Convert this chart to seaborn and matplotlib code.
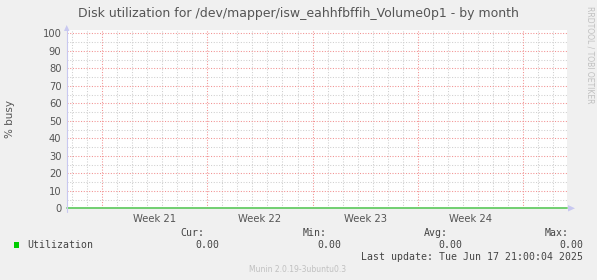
import matplotlib
matplotlib.use("Agg")
import matplotlib.pyplot as plt
import seaborn as sns
import pandas as pd

# ---- data ----
times = ["2025-05-16 15:30", "2025-05-19 00:00", "2025-05-22 00:00", "2025-05-25 00:00",
         "2025-05-28 00:00", "2025-05-31 00:00", "2025-06-03 00:00", "2025-06-06 00:00",
         "2025-06-09 00:00", "2025-06-12 00:00", "2025-06-15 00:00", "2025-06-18 22:50"]
utilization = [0, 0, 0, 0, 0, 0, 0, 0, 0, 0, 0, 0]
week_labels = ["Week 21", "Week 22", "Week 23", "Week 24"]
week_starts = ["2025-05-19", "2025-05-26", "2025-06-02", "2025-06-09", "2025-06-16"]
y_ticks = [0, 10, 20, 30, 40, 50, 60, 70, 80, 90, 100]
title = "Disk utilization for /dev/mapper/isw_eahhfbffih_Volume0p1 - by month"
stats_names = ["Cur:", "Min:", "Avg:", "Max:"]
stats_values = ["0.00", "0.00", "0.00", "0.00"]
series_name = "Utilization"
last_update = "Last update: Tue Jun 17 21:00:04 2025"
footer = "Munin 2.0.19-3ubuntu0.3"

df = pd.DataFrame({"time": pd.to_datetime(times), "util": utilization})

sns.set_theme(style="white")
plt.rcParams["font.family"] = ["DejaVu Sans"]

W, H = 597, 280
fig = plt.figure(figsize=(W / 100, H / 100), dpi=100)
fig.patch.set_facecolor("#f0f0f0")

def fx(px):
    return px / W

def fy(py):
    return 1 - py / H

left, right, top, bottom = 67, 567, 30, 208.3
ax = fig.add_axes([fx(left), fy(bottom), fx(right - left), (bottom - top) / H])
ax.set_facecolor("white")

xmin = pd.Timestamp("2025-05-16 15:30")
xmax = pd.Timestamp("2025-06-18 22:50")
ymax = 100 * (bottom - top) / (bottom - 33.3)

# grid lines
days = pd.date_range("2025-05-17", "2025-06-18", freq="D")
major = pd.to_datetime(week_starts)
for d in days:
    if d.weekday() == 0:
        continue
    ax.axvline(d, color="#cfcfcf", lw=0.75, ls=(0, (1, 1.6)), zorder=1)
for v in range(5, 100, 10):
    ax.axhline(v, color="#cfcfcf", lw=0.75, ls=(0, (1, 1.6)), zorder=1)
for d in major:
    ax.axvline(d, color="#f29090", lw=0.75, ls=(0, (1, 1.6)), zorder=2)
for v in y_ticks[1:]:
    ax.axhline(v, color="#f29090", lw=0.75, ls=(0, (1, 1.6)), zorder=2)

sns.lineplot(data=df, x="time", y="util", ax=ax, color="#66cc66", lw=1.3, zorder=5,
             legend=False, clip_on=False)

ax.set_xlim(xmin, xmax)
ax.set_ylim(0, ymax)
for s in ax.spines.values():
    s.set_visible(False)

ax.set_yticks(y_ticks)
ax.set_yticklabels([str(v) for v in y_ticks], fontsize=7.2, color="#555555")
mids = [m + pd.Timedelta(hours=84) for m in major[:-1]]
ax.set_xticks(mids)
ax.set_xticklabels(week_labels, fontsize=7.2, color="#555555")
ax.tick_params(axis="both", length=0, pad=4)
ax.set_xlabel("")
ax.set_ylabel("% busy", fontsize=7.5, color="#555555", labelpad=20)

# axis lines with arrows
fig.add_artist(plt.Line2D([fx(66.7), fx(66.7)], [fy(212), fy(30)], color="#c8c8f0", lw=0.8))
fig.add_artist(plt.Polygon([[fx(64), fy(31)], [fx(69.5), fy(31)], [fx(66.7), fy(25)]],
                           closed=True, color="#c8c8f0", lw=0))
fig.add_artist(plt.Polygon([[fx(568), fy(205)], [fx(568), fy(211.5)], [fx(575), fy(208.3)]],
                           closed=True, color="#c8c8f0", lw=0))

# title
fig.text(fx(298), fy(13), title, ha="center", va="center", fontsize=9, color="#555555")
# side credit
fig.text(fx(590), fy(55), "RRDTOOL / TOBI OETIKER", rotation=270, ha="center", va="center",
         fontsize=5.5, color="#c0c0c0")

# legend row
mono = "DejaVu Sans Mono"
fig.add_artist(plt.Rectangle((fx(14), fy(247.5)), 5 / W, 5.5 / H, color="#00cc00", lw=0))
fig.text(fx(27), fy(244.5), series_name, ha="left", va="center", fontsize=7.1, family=mono, color="#444444")
name_x = [204, 327, 448, 569]
val_x = [219, 341, 462, 583]
for n, nx, v, vx in zip(stats_names, name_x, stats_values, val_x):
    fig.text(fx(nx), fy(232.5), n, ha="right", va="center", fontsize=7.1, family=mono, color="#444444")
    fig.text(fx(vx), fy(244.5), v, ha="right", va="center", fontsize=7.1, family=mono, color="#444444")
fig.text(fx(583), fy(256.5), last_update, ha="right", va="center", fontsize=7.1, family=mono, color="#444444")
fig.text(fx(298), fy(270), footer, ha="center", va="center", fontsize=5.5, color="#c0c0c0")

fig.savefig("out.png", dpi=100, facecolor=fig.get_facecolor())
